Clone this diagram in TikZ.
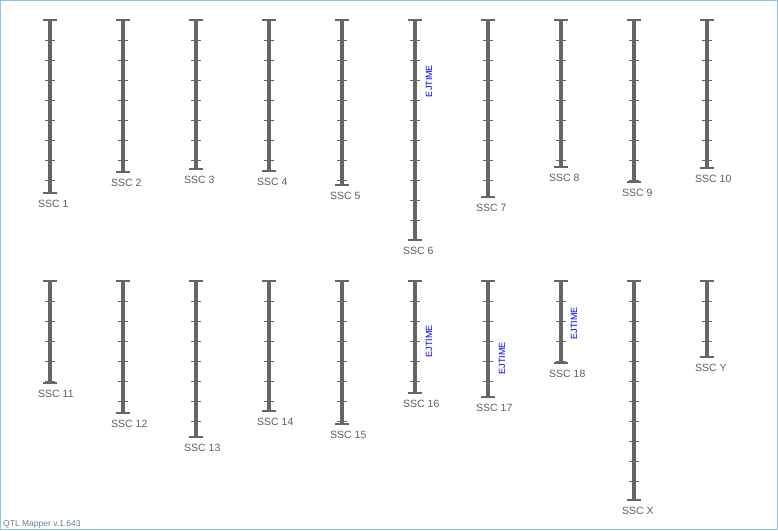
\documentclass[tikz,border=0pt]{standalone}
\usepackage{fontspec}
\setmainfont{Liberation Sans}
\definecolor{chr}{HTML}{666666}
\definecolor{lbl}{HTML}{606060}
\definecolor{framec}{HTML}{8CC4EC}
\definecolor{verc}{HTML}{6A7F99}
\tikzset{
  chrbar/.style={draw=chr, line width=4pt},
  chrcap/.style={draw=chr, line width=1.4pt},
  chrtick/.style={draw=chr, line width=1pt},
  chrlab/.style={text=lbl, inner sep=0pt, anchor=west, font=\fontsize{10.5}{12}\selectfont},
  qtl/.style={text=blue, inner sep=0pt, rotate=90, font=\fontsize{9}{10}\selectfont},
}
\newcommand\chromo[5]{%
  \pgfmathtruncatemacro\ntk{(#4-#3-1)/20}%
  \draw[chrbar] (#2,#3) -- (#2,#4);
  \draw[chrcap] (#2-7,#3) -- (#2+7,#3);
  \draw[chrcap] (#2-7,#4) -- (#2+7,#4);
  \ifnum\ntk>0 \foreach \k in {1,...,\ntk} {\draw[chrtick] (#2-5,#3+20*\k) -- (#2+5,#3+20*\k);}\fi
  \node[chrlab] (#1) at (#2-12,#4+10.5) {#5};
}
\begin{document}
\begin{tikzpicture}[x=1pt,y=-1pt]
\useasboundingbox (0,0) rectangle (778,530);
\fill[white] (0,0) rectangle (778,530);
\draw[framec, line width=1pt] (0.5,0.5) rectangle (777.5,529.5);
% row 1
\chromo{c1}{50}{20}{193}{SSC 1}
\chromo{c2}{123}{20}{172}{SSC 2}
\chromo{c3}{196}{20}{169}{SSC 3}
\chromo{c4}{269}{20}{171}{SSC 4}
\chromo{c5}{342}{20}{185}{SSC 5}
\chromo{c6}{415}{20}{240}{SSC 6}
\chromo{c7}{488}{20}{197}{SSC 7}
\chromo{c8}{561}{20}{167}{SSC 8}
\chromo{c9}{634}{20}{182}{SSC 9}
\chromo{c10}{707}{20}{168}{SSC 10}
% row 2
\chromo{c11}{50}{281}{383}{SSC 11}
\chromo{c12}{123}{281}{413}{SSC 12}
\chromo{c13}{196}{281}{437}{SSC 13}
\chromo{c14}{269}{281}{411}{SSC 14}
\chromo{c15}{342}{281}{424}{SSC 15}
\chromo{c16}{415}{281}{393}{SSC 16}
\chromo{c17}{488}{281}{397}{SSC 17}
\chromo{c18}{561}{281}{363}{SSC 18}
\chromo{cX}{634}{281}{500}{SSC X}
\chromo{cY}{707}{281}{357}{SSC Y}
% QTL labels
\node[qtl] (q6) at (429,81) {EJTIME};
\node[qtl] (q16) at (429,341) {EJTIME};
\node[qtl] (q17) at (502,358) {EJTIME};
\node[qtl] (q18) at (574,323) {EJTIME};
% version
\node[text=verc, inner sep=0pt, anchor=base west, font=\fontsize{8.5}{10}\selectfont] (ver) at (3,526) {QTL Mapper v.1.643};
\end{tikzpicture}
\end{document}
